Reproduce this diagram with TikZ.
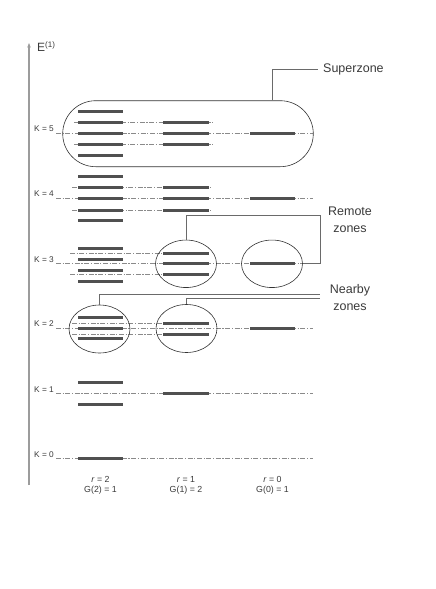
\documentclass[tikz,border=0pt]{standalone}
\usepackage{fontspec}
\setmainfont{Liberation Sans}
\usetikzlibrary{shapes.geometric,arrows.meta}
\definecolor{barc}{HTML}{505050}
\definecolor{dashc}{HTML}{8A8A8A}
\definecolor{conc}{HTML}{6A6A6A}
\definecolor{axc}{HTML}{9C9C9C}
\definecolor{txtc}{HTML}{3A3A3A}
\tikzset{
  lvl/.style={line width=3pt,color=barc},
  dd/.style={line width=0.8pt,color=dashc,dash pattern=on 5pt off 1.6pt on 1.2pt off 1.6pt},
  con/.style={line width=0.9pt,color=conc},
  zone/.style={draw=black!80,line width=0.6pt,ellipse,inner sep=0pt,minimum width=61pt,minimum height=47.5pt},
  klab/.style={anchor=base east,inner sep=0pt,text=txtc,font=\fontsize{8.3}{9}\selectfont},
  blab/.style={inner sep=0pt,text=txtc,font=\fontsize{8.8}{10}\selectfont},
  zlab/.style={inner sep=0pt,text=txtc,align=center,font=\fontsize{12.5}{16.5}\selectfont},
}
\newcommand\lvA[1]{\draw[lvl] (78,#1) -- (123,#1);}
\newcommand\lvB[1]{\draw[lvl] (163,#1) -- (209,#1);}
\newcommand\lvC[1]{\draw[lvl] (250,#1) -- (295,#1);}
\begin{document}
\begin{tikzpicture}[x=1pt,y=-1pt]
\useasboundingbox (0,0) rectangle (436,589);
% axis
\coordinate (axb) at (29,485);
\coordinate (axt) at (29,43);
\draw[color=axc,line width=1.5pt,-{Stealth[length=4.5pt,width=3.5pt]}] (axb) -- (axt);
\node[anchor=base west,inner sep=0pt,text=txtc,font=\fontsize{12}{14}\selectfont] (elab) at (37,51.5) {E\textsuperscript{(1)}};
% K labels
\node[klab] (k5) at (54,131.5) {K = 5};
\node[klab] (k4) at (54,196.5) {K = 4};
\node[klab] (k3) at (54,262) {K = 3};
\node[klab] (k2) at (54,326.5) {K = 2};
\node[klab] (k1) at (54,392) {K = 1};
\node[klab] (k0) at (54,457) {K = 0};
% main dash-dot lines
\foreach \y in {133.3,198.3,263.8,328.3,393.8,458.8} \draw[dd] (56,\y) -- (313,\y);
% secondary dash-dot lines
\draw[dd] (74,122.7) -- (214,122.7);
\draw[dd] (74,144.3) -- (214,144.3);
\draw[dd] (72,187.3) -- (212,187.3);
\draw[dd] (72,210) -- (212,210);
\draw[dd] (70,253) -- (163,253);
\draw[dd] (70,274.5) -- (163,274.5);
\draw[dd] (72,323) -- (163,323);
\draw[dd] (72,334) -- (163,334);
% K=5
\lvA{111.7}\lvA{122.7}\lvA{133.3}\lvA{144.3}\lvA{155.3}
\lvB{122.7}\lvB{133.3}\lvB{144.3}
\lvC{133.3}
% K=4
\lvA{176.7}\lvA{187.3}\lvA{198.3}\lvA{210}\lvA{220.7}
\lvB{187.3}\lvB{198.3}\lvB{210}
\lvC{198.3}
% K=3
\lvA{248}\lvA{259}\lvA{270}\lvA{281}
\lvB{253}\lvB{263.8}\lvB{274.5}
\lvC{263.8}
% K=2
\lvA{317.7}\lvA{328.3}\lvA{338.7}
\lvB{323}\lvB{334}
\lvC{328.3}
% K=1
\lvA{382.3}\lvA{404.3}
\lvB{393.8}
% K=0
\lvA{458.8}
% superzone
\node[draw=black!80,line width=0.6pt,rounded corners=33pt,minimum width=250.6pt,minimum height=66pt,inner sep=0pt] (sz) at (188,133.7) {};
\coordinate (szc) at (272,69);
\coordinate (sze) at (318,69);
\draw[con] (szc |- sz.north) -- (szc) -- (sze);
\node[anchor=west,inner sep=0pt,text=txtc,font=\fontsize{12.5}{15}\selectfont] (szlab) at (323,69) {Superzone};
% remote zones
\node[zone] (rz2) at (186,263.8) {};
\node[zone] (rz3) at (272,263.8) {};
\coordinate (rc) at (320,215);
\draw[con] (rz2.north) |- (rc) |- (rz3.east);
\node[zlab] (rzlab) at (350,220) {Remote\\zones};
% nearby zones
\node[zone,minimum height=48pt] (nz1) at (99.5,329) {};
\node[zone,minimum height=48pt] (nz2) at (186.5,328.5) {};
\coordinate (nc1) at (320,294);
\coordinate (nc2) at (320,298);
\draw[con] (nz1.north) |- (nc1);
\draw[con] (nz2.north) |- (nc2);
\node[zlab] (nzlab) at (350,297.5) {Nearby\\zones};
% bottom labels
\node[blab] (r2) at (100.5,479) {\textit{r} = 2};
\node[blab] (g2) at (100.5,490.5) {G(2) = 1};
\node[blab] (r1) at (186,479) {\textit{r} = 1};
\node[blab] (g1) at (186,490.5) {G(1) = 2};
\node[blab] (r0) at (272.5,479) {\textit{r} = 0};
\node[blab] (g0) at (272.5,490.5) {G(0) = 1};
\end{tikzpicture}
\end{document}
